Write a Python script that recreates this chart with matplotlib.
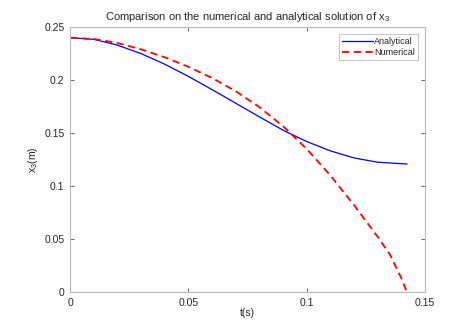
import matplotlib
matplotlib.use('Agg')
import matplotlib.pyplot as plt

plt.rcParams['font.family'] = ['Liberation Sans', 'DejaVu Sans']
plt.rcParams['mathtext.default'] = 'regular'

# analytical solution
t_an = [0, 0.01, 0.02, 0.03, 0.04, 0.05, 0.06, 0.07, 0.08, 0.09, 0.10, 0.11, 0.12, 0.13, 0.1423]
x_an = [0.240, 0.2385, 0.2330, 0.2250, 0.2150, 0.2035, 0.1910, 0.1782, 0.1653, 0.1527,
        0.1420, 0.1332, 0.1265, 0.1225, 0.1208]

# numerical solution
t_num = [0, 0.01, 0.02, 0.03, 0.04, 0.05, 0.06, 0.07, 0.08, 0.09, 0.10, 0.11, 0.12, 0.13,
         0.135, 0.14, 0.1423]
x_num = [0.240, 0.2388, 0.2350, 0.2290, 0.2215, 0.2125, 0.2020, 0.1895, 0.1745, 0.1565,
         0.1350, 0.1100, 0.0820, 0.0520, 0.0360, 0.0130, 0.0]

grey = '#262626'
fig = plt.figure(figsize=(4.61, 3.23), dpi=100)
ax = fig.add_axes([0.152, 0.096, 0.77, 0.82])

ax.plot(t_an, x_an, color='blue', lw=0.9, label='Analytical')
ax.plot(t_num, x_num, color='red', lw=1.3, ls=(0, (4, 2.5)), label='Numerical')

ax.set_xlim(0, 0.15)
ax.set_ylim(0, 0.25)
ax.set_xticks([0, 0.05, 0.1, 0.15])
ax.set_xticklabels(['0', '0.05', '0.1', '0.15'])
ax.set_yticks([0, 0.05, 0.1, 0.15, 0.2, 0.25])
ax.set_yticklabels(['0', '0.05', '0.1', '0.15', '0.2', '0.25'])
ax.tick_params(direction='in', top=True, right=True, length=3, width=0.5,
               labelsize=7.5, colors=grey, pad=4)
for s in ax.spines.values():
    s.set_color('#bbbbbb')
    s.set_linewidth(0.8)

ax.set_xlabel('t(s)', fontsize=7.5, color=grey, labelpad=0)
ax.set_ylabel('x$_3$(m)', fontsize=7.5, color=grey, labelpad=3)
ax.set_title('Comparison on the numerical and analytical solution of x$_3$',
             fontsize=8, color=grey, pad=5)

leg = ax.legend(loc='upper right', fontsize=6.5, fancybox=False, framealpha=1,
                edgecolor='#bbbbbb', handlelength=3.4, handletextpad=0.2,
                borderpad=0.3, labelspacing=0.2, borderaxespad=0.8)
leg.get_frame().set_linewidth(0.6)
for txt in leg.get_texts():
    txt.set_color(grey)

fig.savefig('out.png', dpi=100)
